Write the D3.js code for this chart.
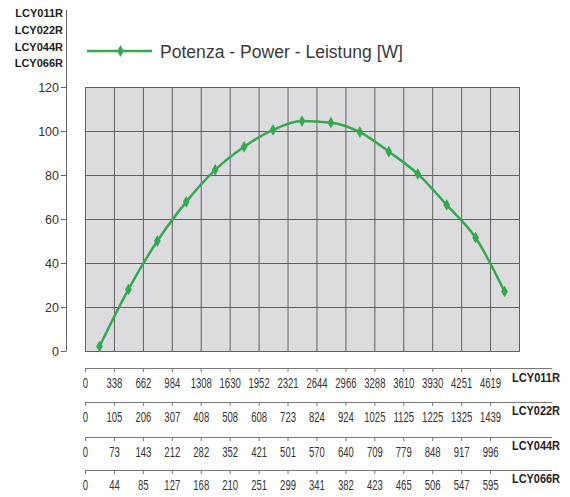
<!DOCTYPE html>
<html>
<head>
<meta charset="utf-8">
<script src="https://cdn.jsdelivr.net/npm/d3@7"></script>
<style>
  html, body { margin: 0; padding: 0; background: #fff; }
  svg { display: block; font-family: "Liberation Sans", Arial, sans-serif; }
</style>
</head>
<body>
<svg id="chart" width="570" height="497"></svg>
<script>
// ---- data ----
const models = ["LCY011R", "LCY022R", "LCY044R", "LCY066R"];
const yTicks = [0, 20, 40, 60, 80, 100, 120];
const power = [2, 28, 50, 67.8, 82.3, 92.8, 100.5, 104.5, 103.8, 99.5, 90.6, 80.5, 66.4, 51.5, 27];
const flowLCY011R = [0, 338, 662, 984, 1308, 1630, 1952, 2321, 2644, 2966, 3288, 3610, 3930, 4251, 4619];
const flowLCY022R = [0, 105, 206, 307, 408, 508, 608, 723, 824, 924, 1025, 1125, 1225, 1325, 1439];
const flowLCY044R = [0, 73, 143, 212, 282, 352, 421, 501, 570, 640, 709, 779, 848, 917, 996];
const flowLCY066R = [0, 44, 85, 127, 168, 210, 251, 299, 341, 382, 423, 465, 506, 547, 595];
const flowRows = [flowLCY011R, flowLCY022R, flowLCY044R, flowLCY066R];
const legendLabel = "Potenza - Power - Leistung [W]";

// ---- layout ----
const svg = d3.select("#chart");
const plot = { left: 85, right: 519, top: 87, bottom: 351 };
const nCells = power.length; // 15 cells
const x = d3.scaleLinear().domain([0, nCells]).range([plot.left, plot.right]);
const y = d3.scaleLinear().domain([0, 120]).range([plot.bottom, plot.top]);
const green = "#36a852";
const gridColor = "#606060";
const textColor = "#333";

// plot background
svg.append("rect")
  .attr("x", plot.left).attr("y", plot.top)
  .attr("width", plot.right - plot.left).attr("height", plot.bottom - plot.top)
  .attr("fill", "#dcdcdf");

// grid
svg.append("g").selectAll("line.v")
  .data(d3.range(nCells + 1)).join("line")
  .attr("x1", d => x(d) + 0.5).attr("x2", d => x(d) + 0.5)
  .attr("y1", plot.top).attr("y2", plot.bottom)
  .attr("stroke", gridColor).attr("stroke-width", 1);
svg.append("g").selectAll("line.h")
  .data(yTicks).join("line")
  .attr("x1", plot.left).attr("x2", plot.right + 1)
  .attr("y1", d => y(d) + 0.5).attr("y2", d => y(d) + 0.5)
  .attr("stroke", gridColor).attr("stroke-width", 1);

// y axis
const yAxis = svg.append("g")
  .attr("transform", "translate(66,0)")
  .call(d3.axisLeft(y).tickValues(yTicks).tickSize(5).tickPadding(2).tickSizeOuter(0));
yAxis.select(".domain").remove();
yAxis.append("line")
  .attr("x1", 0.5).attr("x2", 0.5).attr("y1", 10).attr("y2", y(0) + 0.5)
  .attr("stroke", "#666");
yAxis.selectAll(".tick line").attr("stroke", "#666");
yAxis.selectAll(".tick text")
  .attr("fill", textColor).attr("font-size", 12.5)
  .attr("font-family", "'Liberation Sans', Arial, sans-serif");

// top-left model labels
svg.append("g").selectAll("text")
  .data(models).join("text")
  .attr("x", 63).attr("y", (d, i) => 17.3 + i * 16.7)
  .attr("text-anchor", "end")
  .attr("font-size", 11).attr("font-weight", "bold")
  .attr("fill", "#222")
  .text(d => d);

// line
const line = d3.line()
  .x((d, i) => x(i + 0.5))
  .y(d => y(d))
  .curve(d3.curveMonotoneX);
svg.append("path")
  .datum(power)
  .attr("d", line)
  .attr("fill", "none")
  .attr("stroke", green)
  .attr("stroke-width", 2.5);
svg.append("g").selectAll("path")
  .data(power).join("path")
  .attr("transform", (d, i) => `translate(${x(i + 0.5)},${y(d)})`)
  .attr("d", d3.symbol(d3.symbolDiamond, 40))
  .attr("fill", green);

// legend
const lg = svg.append("g");
lg.append("line").attr("x1", 87).attr("x2", 152).attr("y1", 51).attr("y2", 51)
  .attr("stroke", green).attr("stroke-width", 2.5);
lg.append("path").attr("transform", "translate(120.5,51)")
  .attr("d", d3.symbol(d3.symbolDiamond, 40)).attr("fill", green);
lg.append("text").attr("x", 160).attr("y", 57.5)
  .attr("font-size", 17.5).attr("fill", "#3a3a3a")
  .attr("textLength", 243).attr("lengthAdjust", "spacingAndGlyphs")
  .text(legendLabel);

// flow axes rows
const rowY = [368, 402, 437, 470];
flowRows.forEach((arr, r) => {
  const g = svg.append("g").attr("transform", `translate(0,${rowY[r]})`);
  g.call(d3.axisBottom(x)
    .tickValues(d3.range(arr.length))
    .tickFormat(i => arr[i])
    .tickSize(4).tickPadding(6).tickSizeOuter(0));
  g.select(".domain").remove();
  g.append("line")
    .attr("x1", x(0)).attr("x2", 552).attr("y1", 0.5).attr("y2", 0.5)
    .attr("stroke", "#777");
  g.selectAll(".tick line").attr("stroke", "#777");
  g.selectAll(".tick text")
    .attr("fill", textColor).attr("font-size", 14)
    .attr("font-family", "'Liberation Sans', Arial, sans-serif")
    .attr("transform", "scale(0.68,1)");
  g.append("text")
    .attr("x", 512).attr("y", [13.5, 13, 12.5, 13][r])
    .attr("text-anchor", "start")
    .attr("font-size", 13).attr("font-weight", "bold").attr("fill", "#222")
    .attr("font-family", "'Liberation Sans', Arial, sans-serif")
    .attr("textLength", 48).attr("lengthAdjust", "spacingAndGlyphs")
    .text(models[r]);
});
</script>
</body>
</html>
